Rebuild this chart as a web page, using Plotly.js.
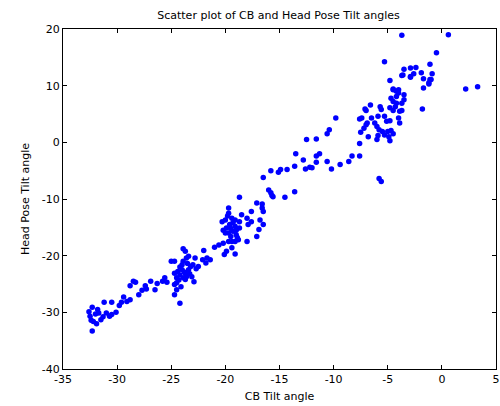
<!DOCTYPE html>
<html>
<head>
<meta charset="utf-8">
<script src="https://cdn.plot.ly/plotly-3.0.1.min.js"></script>
<style>html,body{margin:0;padding:0;background:#fff;}#chart{width:500px;height:406px;}</style>
</head>
<body>
<div id="chart"></div>
<script>
var cbTilt = [
-32.3,-32.6,-31.8,-31.7,-32.5,-32.4,-32.2,-31.9,-31.5,-32.3,-31.2,-31.0,-30.7,-30.5,-30.1,-30.5,-29.8,-29.6,-29.4,-29.1,-28.8,-28.8,-28.5,-28.3,-28.0,-27.7,-27.4,-27.3,-26.9,-26.5,-26.3,-25.8,-25.6,-25.4,-32.0,-31.3,
-25.0,-24.7,-23.9,-23.7,-23.6,-23.4,-22.8,-23.0,-23.2,-23.9,-24.0,-24.4,-24.7,-24.2,-23.7,-23.6,-23.9,-24.5,-23.1,-22.9,-23.7,-24.5,-24.7,-24.5,-24.7,-24.2,-23.4,-24.0,-22.5,-22.7,-22.0,-22.1,-21.7,-21.8,-21.4,-24.2,-23.8,-24.3,-23.3,-24.1,-23.5,
-21.0,-20.6,-20.2,-20.1,-19.9,-19.1,-20.3,-20.0,-19.7,-19.7,-19.4,-19.6,-19.9,-19.7,-19.5,-19.3,-19.1,-19.0,-18.8,-19.1,-19.4,-19.7,-19.1,-18.7,-18.7,-18.5,-18.0,-17.9,-17.6,-17.6,-18.0,-17.1,-16.9,-16.8,-17.1,-16.6,-16.5,-16.5,-18.7,-15.7,-20.0,-19.5,-19.3,-19.8,-19.0,-18.9,-20.2,-19.4,
-16.5,-16.0,-15.8,-15.6,-16.6,-15.8,-15.1,-14.9,-14.3,-14.5,-13.6,-13.6,-13.5,-12.8,-12.6,-12.2,-12.0,-11.6,-11.6,-11.3,-12.5,-11.6,-10.6,-10.4,-9.8,-10.6,-10.2,-9.4,-8.6,-8.3,-7.6,-7.6,-7.6,-7.5,-7.2,-7.0,-6.8,-7.0,
-5.8,-5.6,-7.1,-6.6,-7.4,-6.9,-6.5,-6.2,-6.0,-5.8,-5.5,-5.3,-5.0,-4.7,-4.5,-4.9,-4.8,-5.9,-6.0,-5.9,-5.7,-5.6,-5.3,-5.1,-4.8,-4.8,-4.5,-4.5,-4.7,-4.5,-4.2,-4.0,-4.2,-3.5,-3.5,-3.7,-4.3,-3.9,-3.7,-4.0,-3.9,-4.2,-4.8,-1.8,-1.7,-1.2,-1.0,-1.7,-2.9,-3.6,
-3.7,0.6,-0.5,-5.3,-3.5,-2.9,-2.4,-1.1,-3.7,-2.9,-2.6,-1.9,-0.9,-1.1,-1.2,-4.5,-4.0,2.2,3.3
];
var headTilt = [
-29.1,-29.9,-29.5,-30.1,-30.7,-31.4,-31.6,-32.0,-31.3,-33.3,-28.2,-30.1,-30.7,-30.4,-30.0,-28.2,-28.8,-28.2,-27.3,-28.1,-27.8,-25.3,-24.5,-24.7,-26.9,-26.1,-25.3,-25.9,-24.5,-26.0,-24.9,-24.5,-23.9,-24.7,-30.3,-30.8,
-21.0,-21.0,-18.8,-19.2,-20.4,-20.1,-20.4,-21.6,-21.9,-21.0,-21.6,-22.8,-23.1,-23.4,-23.1,-23.7,-23.9,-23.9,-23.7,-24.6,-24.2,-24.8,-25.1,-26.0,-26.9,-28.4,-22.5,-22.5,-21.9,-22.3,-19.1,-20.7,-20.4,-21.3,-20.7,-22.0,-22.9,-24.3,-23.2,-25.5,-21.4,
-18.5,-18.1,-17.8,-19.8,-19.2,-19.7,-14.0,-13.7,-11.6,-12.5,-13.4,-14.5,-15.1,-16.0,-16.6,-15.7,-14.8,-16.3,-17.2,-17.5,-17.5,-17.5,-13.7,-14.0,-15.1,-12.8,-13.4,-14.5,-12.2,-14.0,-17.5,-16.6,-15.4,-13.7,-10.7,-11.6,-12.2,-14.5,-9.7,-9.4,-16.0,-15.2,-14.2,-13.0,-15.5,-16.8,-15.5,-18.6,
-6.2,-8.4,-8.9,-9.6,-10.9,-5.0,-5.3,-4.8,-4.8,-9.7,-8.7,-4.2,-2.0,-3.1,-4.7,-4.4,-4.5,-3.5,-2.4,-2.0,0.5,0.6,1.5,2.2,4.3,-3.4,-4.7,-3.9,-3.4,-2.4,-2.4,-0.2,4.1,1.8,2.5,3.1,1.0,5.6,
-6.4,-6.9,5.9,6.6,4.3,3.4,4.3,3.4,2.8,2.2,1.9,1.3,1.9,2.1,1.5,1.0,0.3,1.2,0.5,4.6,6.3,5.8,4.6,3.7,3.8,6.1,5.6,7.2,7.8,9.3,9.0,8.7,8.1,8.4,7.5,6.9,6.3,5.5,5.6,4.3,3.4,6.9,10.9,5.9,9.6,10.5,11.1,11.2,11.6,11.9,
18.9,19.0,15.8,14.2,12.9,13.1,13.2,13.8,11.8,11.5,12.1,12.3,12.1,11.1,10.3,9.4,9.3,9.4,9.8
];
var xTicks = [-35,-30,-25,-20,-15,-10,-5,0,5];
var yTicks = [-40,-30,-20,-10,0,10,20];

var fontFamily = 'DejaVu Sans, Liberation Sans, Arial, sans-serif';
var trace = {
  x: cbTilt, y: headTilt, type: 'scatter', mode: 'markers',
  marker: {color: '#0000ff', size: 5.5, line: {width: 0}},
  hoverinfo: 'none'
};
var axisCommon = {
  showline: true, linecolor: '#000', linewidth: 1, mirror: 'ticks',
  ticks: 'inside', ticklen: 4, tickcolor: '#000', tickwidth: 1,
  showgrid: false, zeroline: false,
  tickfont: {family: fontFamily, size: 11, color: '#000'}
};
var layout = {
  width: 500, height: 406,
  margin: {l: 63, r: 4, t: 29, b: 37},
  paper_bgcolor: '#fff', plot_bgcolor: '#fff',
  showlegend: false,
  font: {family: fontFamily, size: 11, color: '#000'},
  title: {text: 'Scatter plot of CB and Head Pose Tilt angles', x: 0.557, xanchor: 'center', y: 0.962, yanchor: 'middle',
          font: {family: fontFamily, size: 11, color: '#000'}},
  xaxis: Object.assign({}, axisCommon, {
    range: [-35, 5], tickmode: 'array', tickvals: xTicks, ticktext: xTicks.map(String),
    title: {text: 'CB Tilt angle', standoff: 7, font: {family: fontFamily, size: 11, color: '#000'}}
  }),
  yaxis: Object.assign({}, axisCommon, {
    range: [-40, 20], tickmode: 'array', tickvals: yTicks, ticktext: yTicks.map(String),
    title: {text: 'Head Pose Tilt angle', standoff: 9, font: {family: fontFamily, size: 11, color: '#000'}}
  })
};
Plotly.newPlot('chart', [trace], layout, {displayModeBar: false, staticPlot: true});
</script>
</body>
</html>
